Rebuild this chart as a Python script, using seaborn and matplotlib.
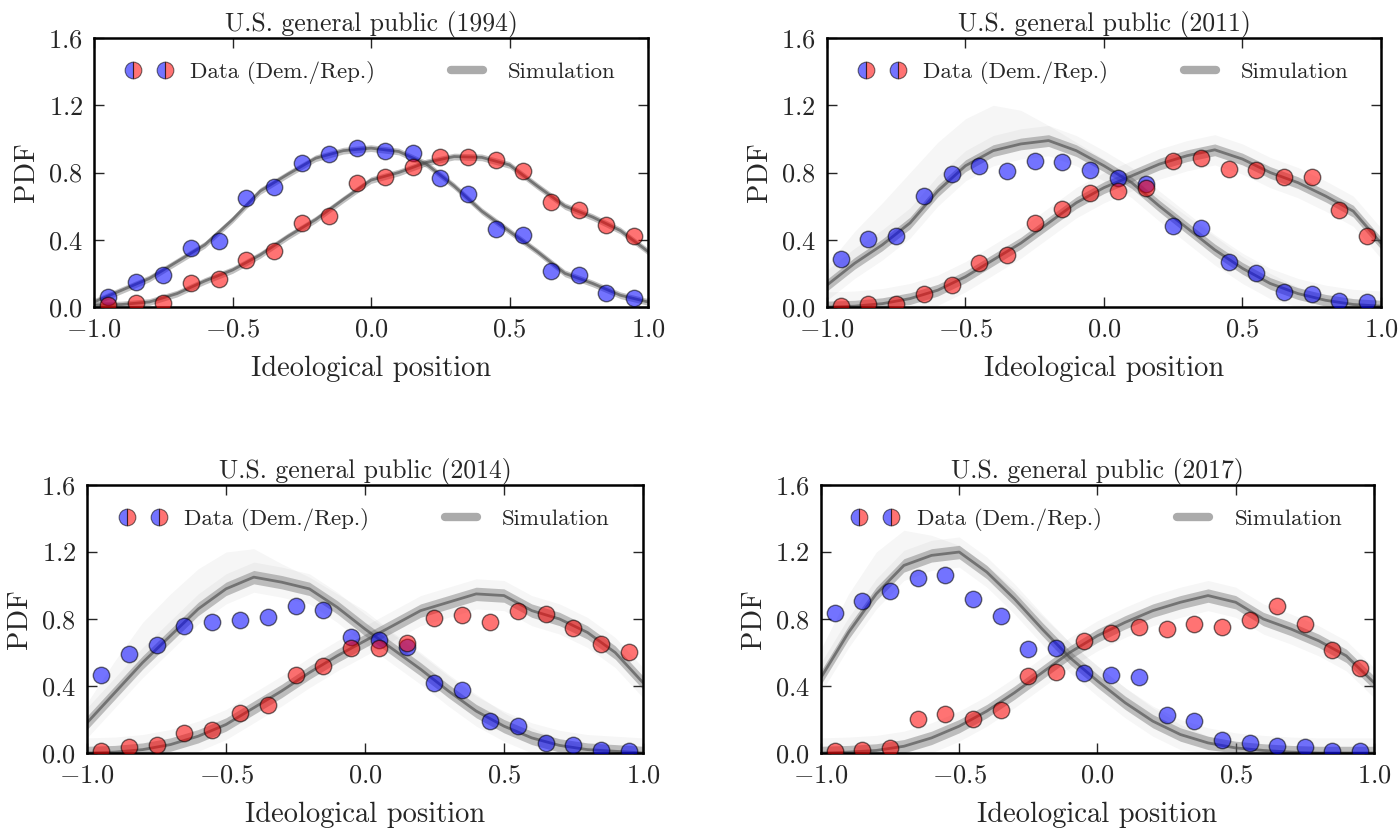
import matplotlib
matplotlib.use("Agg")
import matplotlib.pyplot as plt
from matplotlib.lines import Line2D
import numpy as np
import seaborn as sns

# survey bins (bin centres) and simulation grid
x_data = [-0.95, -0.85, -0.75, -0.65, -0.55, -0.45, -0.35, -0.25, -0.15, -0.05,
          0.05, 0.15, 0.25, 0.35, 0.45, 0.55, 0.65, 0.75, 0.85, 0.95]
sim_x = [-1.0, -0.9, -0.8, -0.7, -0.6, -0.5, -0.4, -0.3, -0.2, -0.1, 0.0,
         0.1, 0.2, 0.3, 0.4, 0.5, 0.6, 0.7, 0.8, 0.9, 1.0]

years = ["1994", "2011", "2014", "2017"]

# data points (Democrats / Republicans)
dem_1994 = [0.06, 0.15, 0.19, 0.35, 0.39, 0.65, 0.715, 0.855, 0.91, 0.945,
            0.93, 0.915, 0.77, 0.67, 0.465, 0.43, 0.215, 0.19, 0.085, 0.055]
rep_1994 = [0.01, 0.025, 0.025, 0.145, 0.165, 0.28, 0.335, 0.50, 0.54, 0.735,
            0.775, 0.83, 0.895, 0.895, 0.875, 0.81, 0.625, 0.58, 0.49, 0.425]
dem_2011 = [0.285, 0.405, 0.42, 0.66, 0.79, 0.84, 0.81, 0.87, 0.86, 0.815,
            0.77, 0.73, 0.48, 0.47, 0.265, 0.20, 0.09, 0.075, 0.035, 0.03]
rep_2011 = [0.005, 0.02, 0.02, 0.08, 0.13, 0.26, 0.31, 0.50, 0.585, 0.68,
            0.69, 0.71, 0.87, 0.885, 0.82, 0.815, 0.775, 0.775, 0.575, 0.42]
dem_2014 = [0.465, 0.59, 0.645, 0.76, 0.78, 0.795, 0.81, 0.875, 0.855, 0.695,
            0.675, 0.63, 0.415, 0.375, 0.19, 0.16, 0.06, 0.045, 0.015, 0.01]
rep_2014 = [0.01, 0.035, 0.045, 0.12, 0.135, 0.24, 0.285, 0.465, 0.52, 0.625,
            0.625, 0.655, 0.805, 0.825, 0.785, 0.845, 0.83, 0.745, 0.65, 0.60]
dem_2017 = [0.835, 0.91, 0.965, 1.045, 1.065, 0.92, 0.82, 0.62, 0.625, 0.48,
            0.465, 0.455, 0.225, 0.19, 0.08, 0.06, 0.04, 0.035, 0.01, 0.01]
rep_2017 = [0.01, 0.02, 0.03, 0.20, 0.235, 0.20, 0.255, 0.46, 0.485, 0.67,
            0.715, 0.755, 0.74, 0.77, 0.755, 0.795, 0.88, 0.77, 0.615, 0.51]

# simulation bundle centre lines
dem_sim_1994 = [0.03, 0.10, 0.17, 0.27, 0.37, 0.52, 0.69, 0.79, 0.885, 0.93, 0.945,
                0.925, 0.85, 0.72, 0.57, 0.45, 0.33, 0.20, 0.14, 0.07, 0.03]
rep_sim_1994 = [0.01, 0.015, 0.03, 0.08, 0.155, 0.22, 0.31, 0.42, 0.52, 0.64, 0.755,
                0.80, 0.86, 0.895, 0.89, 0.845, 0.72, 0.60, 0.535, 0.455, 0.33]
dem_sim_2011 = [0.13, 0.26, 0.37, 0.50, 0.69, 0.84, 0.93, 0.97, 0.99, 0.93, 0.84,
                0.74, 0.60, 0.47, 0.34, 0.23, 0.14, 0.08, 0.04, 0.015, 0.005]
rep_sim_2011 = [0.0, 0.005, 0.02, 0.05, 0.10, 0.18, 0.28, 0.38, 0.50, 0.62, 0.71,
                0.78, 0.85, 0.90, 0.935, 0.88, 0.80, 0.74, 0.66, 0.57, 0.38]
dem_sim_2014 = [0.18, 0.36, 0.54, 0.70, 0.86, 0.98, 1.05, 1.02, 0.98, 0.87, 0.74,
                0.62, 0.50, 0.37, 0.25, 0.16, 0.09, 0.045, 0.02, 0.01, 0.0]
rep_sim_2014 = [0.0, 0.005, 0.02, 0.05, 0.10, 0.17, 0.27, 0.37, 0.48, 0.58, 0.67,
                0.76, 0.85, 0.90, 0.95, 0.94, 0.85, 0.80, 0.72, 0.60, 0.42]
dem_sim_2017 = [0.45, 0.72, 0.95, 1.12, 1.18, 1.20, 1.08, 0.92, 0.74, 0.57, 0.43,
                0.30, 0.19, 0.11, 0.06, 0.03, 0.015, 0.005, 0.0, 0.0, 0.0]
rep_sim_2017 = [0.0, 0.005, 0.015, 0.04, 0.09, 0.16, 0.25, 0.36, 0.48, 0.60, 0.70,
                0.78, 0.85, 0.90, 0.94, 0.90, 0.80, 0.74, 0.67, 0.58, 0.42]

# faint upper edge of the Democrat simulation fan
dem_top_2011 = [0.25, 0.45, 0.62, 0.80, 0.98, 1.12, 1.20, 1.17, 1.08, 0.98, 0.88,
                0.77, 0.66, 0.54, 0.42, 0.30, 0.20, 0.12, 0.06, 0.03, 0.01]
dem_top_2014 = [0.30, 0.55, 0.78, 0.95, 1.10, 1.20, 1.22, 1.13, 1.05, 0.95, 0.85,
                0.72, 0.60, 0.47, 0.35, 0.24, 0.15, 0.08, 0.04, 0.02, 0.01]
dem_top_2017 = [0.62, 0.95, 1.20, 1.33, 1.30, 1.24, 1.12, 0.98, 0.82, 0.66, 0.52,
                0.39, 0.27, 0.17, 0.10, 0.05, 0.025, 0.01, 0.005, 0.0, 0.0]

data = {"1994": (dem_1994, rep_1994, dem_sim_1994, rep_sim_1994, None),
        "2011": (dem_2011, rep_2011, dem_sim_2011, rep_sim_2011, dem_top_2011),
        "2014": (dem_2014, rep_2014, dem_sim_2014, rep_sim_2014, dem_top_2014),
        "2017": (dem_2017, rep_2017, dem_sim_2017, rep_sim_2017, dem_top_2017)}
core_width = {"1994": 0.02, "2011": 0.035, "2014": 0.04, "2017": 0.04}

sns.set_style("ticks")
plt.rcParams["font.family"] = ["cmr10", "DejaVu Serif"]
plt.rcParams["mathtext.fontset"] = "cm"
plt.rcParams["axes.formatter.use_mathtext"] = True
plt.rcParams["axes.unicode_minus"] = True

fig = plt.figure(figsize=(13.99, 8.32), dpi=100)
positions = [[0.0672, 0.631, 0.396, 0.3233],
             [0.5911, 0.631, 0.396, 0.3233],
             [0.0622, 0.095, 0.3974, 0.322],
             [0.5868, 0.095, 0.3953, 0.322]]

sx = np.array(sim_x)
for year, pos in zip(years, positions):
    ax = fig.add_axes(pos)
    dem, rep, dem_sim, rep_sim, dem_top = data[year]
    w = core_width[year]

    # simulation bundles
    for sim in (dem_sim, rep_sim):
        s = np.array(sim)
        if dem_top is not None:
            ax.fill_between(sx, np.clip(s - 0.09, 0, None), s + 0.09,
                            color="0.5", alpha=0.07, lw=0)
        ax.fill_between(sx, np.clip(s - w, 0, None), s + w,
                        color="0.4", alpha=0.4, lw=0)
        sns.lineplot(x=sim_x, y=sim, ax=ax, color="0.3", lw=2.0, alpha=0.65)
    if dem_top is not None:
        ax.fill_between(sx, dem_sim, dem_top, color="0.5", alpha=0.07, lw=0)

    # survey data
    sns.scatterplot(x=x_data, y=dem, ax=ax, color="blue", alpha=0.55, s=140,
                    edgecolor="k", linewidth=1, zorder=5)
    sns.scatterplot(x=x_data, y=rep, ax=ax, color="red", alpha=0.55, s=140,
                    edgecolor="k", linewidth=1, zorder=5)

    ax.set_xlim(-1, 1)
    ax.set_ylim(0, 1.6)
    ax.set_xticks([-1.0, -0.5, 0.0, 0.5, 1.0])
    ax.set_yticks([0.0, 0.4, 0.8, 1.2, 1.6])
    ax.tick_params(direction="in", top=True, right=True, length=7, width=1,
                   labelsize=19, pad=8)
    for sp in ax.spines.values():
        sp.set_linewidth(1.8)
        sp.set_color("black")
    ax.set_title(f"U.S. general public ({year})", fontsize=18.5, pad=5)
    ax.set_xlabel("Ideological position", fontsize=20.5, labelpad=10)
    ax.set_ylabel("PDF", fontsize=20.5, labelpad=6)

    handles = [Line2D([], [], ls="none", marker="o", markersize=12,
                      fillstyle="left", markerfacecolor="blue",
                      markerfacecoloralt="red", markeredgecolor="k",
                      markeredgewidth=0.8, alpha=0.55),
               Line2D([], [], color="0.45", lw=6, alpha=0.6)]
    ax.legend(handles, ["Data (Dem./Rep.)", "Simulation"], loc="upper center",
              ncol=2, numpoints=2, frameon=False, fontsize=16.5,
              columnspacing=3.0, handlelength=2.0, borderaxespad=0.6)

fig.savefig("out.png", dpi=100)
